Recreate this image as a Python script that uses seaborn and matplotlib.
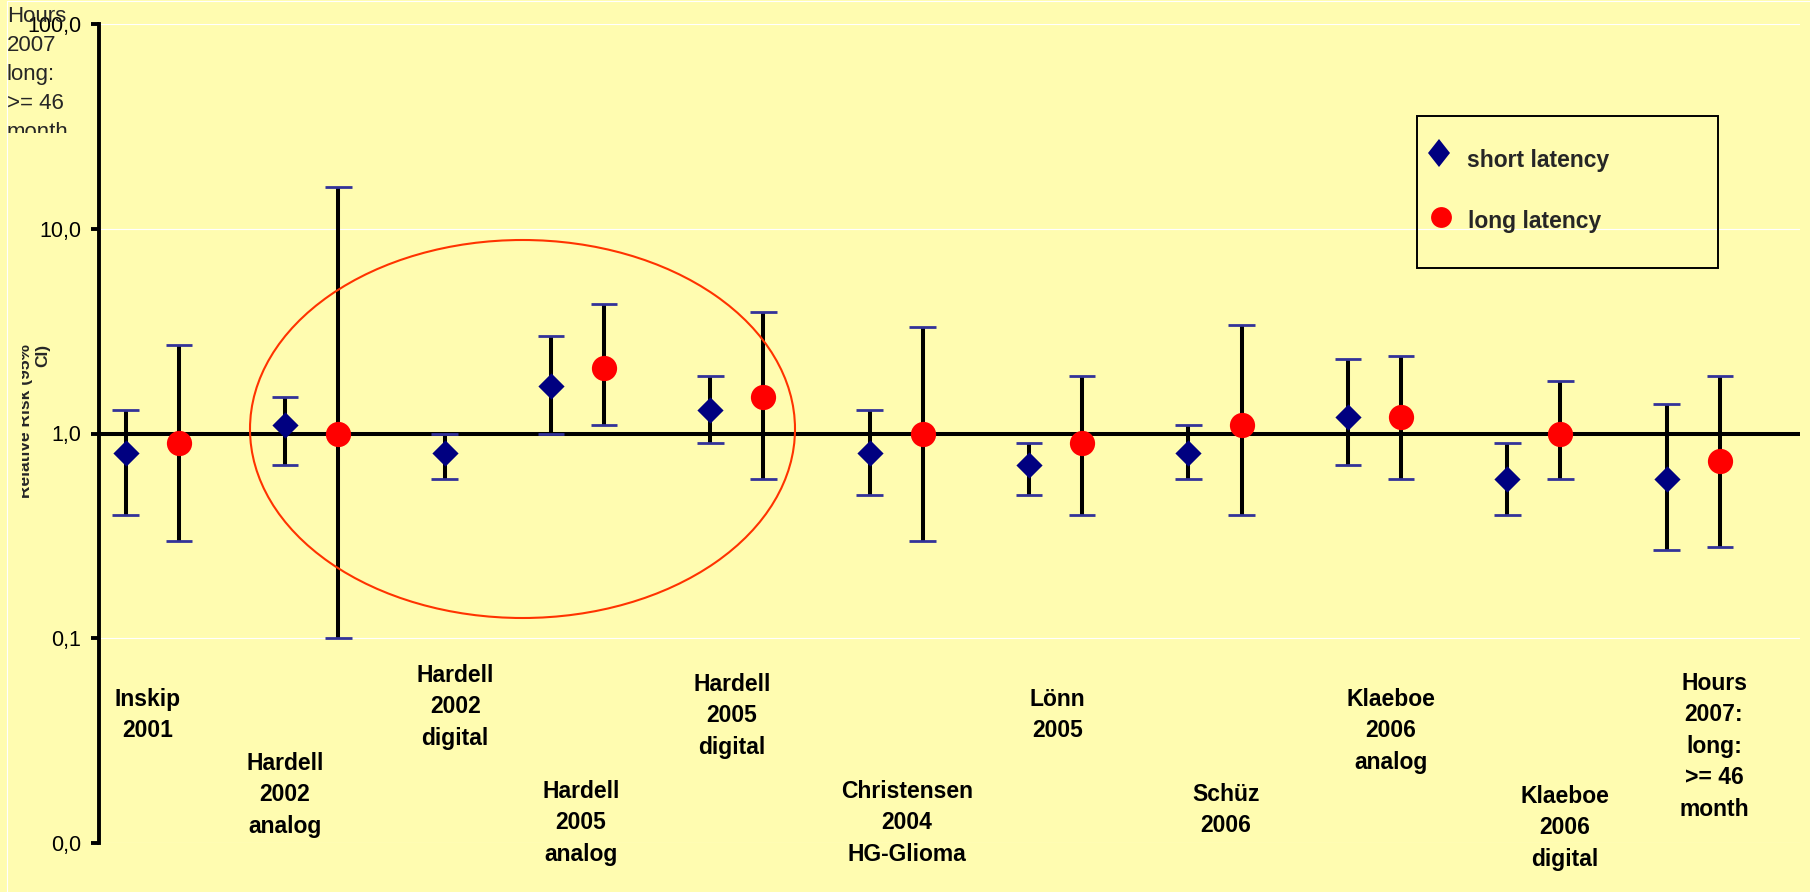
import numpy as np
import pandas as pd
import matplotlib
matplotlib.use("Agg")
import matplotlib.pyplot as plt
import matplotlib.transforms as mtransforms
from matplotlib.patches import Ellipse, Rectangle
from matplotlib.lines import Line2D
from matplotlib.markers import MarkerStyle
from matplotlib.ticker import NullLocator
import seaborn as sns

# ---- data -------------------------------------------------------------
studies = [
    "Inskip\n2001",
    "Hardell\n2002\nanalog",
    "Hardell\n2002\ndigital",
    "Hardell\n2005\nanalog",
    "Hardell\n2005\ndigital",
    "Christensen\n2004\nHG-Glioma",
    "Lönn\n2005",
    "Schüz\n2006",
    "Klaeboe\n2006\nanalog",
    "Klaeboe\n2006\ndigital",
    "Hours\n2007:\nlong:\n>= 46\nmonth",
]
short_rr = [0.8, 1.1, 0.8, 1.7, 1.3, 0.8, 0.7, 0.8, 1.2, 0.6, 0.6]
short_lo = [0.4, 0.7, 0.6, 1.0, 0.9, 0.5, 0.5, 0.6, 0.7, 0.4, 0.27]
short_hi = [1.3, 1.5, 1.0, 3.0, 1.9, 1.3, 0.9, 1.1, 2.3, 0.9, 1.4]
long_rr = [0.9, 1.0, np.nan, 2.1, 1.5, 1.0, 0.9, 1.1, 1.2, 1.0, 0.73]
long_lo = [0.3, 0.1, np.nan, 1.1, 0.6, 0.3, 0.4, 0.4, 0.6, 0.6, 0.28]
long_hi = [2.7, 16.0, np.nan, 4.3, 3.9, 3.3, 1.9, 3.4, 2.4, 1.8, 1.9]
y_ticks = [0.01, 0.1, 1, 10, 100]
y_tick_labels = ["0,0", "0,1", "1,0", "10,0", "100,0"]
series_names = ["short latency", "long latency"]

# ---- layout -----------------------------------------------------------
W, H, DPI = 1810, 892, 100
BG = "#FFFCB0"
# study label anchors: x in slot units, top edge in pixels from the top
label_x = [0.42, 3.0, 6.2, 8.57, 11.41, 14.70, 17.54, 20.70, 23.81, 27.08, 29.89]
label_top_px = [688, 752, 664, 780, 673, 780, 688, 783, 688, 785, 672]

# slot positions: short, long (if present), then an empty slot
short_x, long_x = [], []
slot = 0
for lr in long_rr:
    short_x.append(slot)
    slot += 1
    if not np.isnan(lr):
        long_x.append(slot)
        slot += 1
    else:
        long_x.append(np.nan)
    slot += 1
n_slots = slot

frames = []
frames.append(pd.DataFrame({"x": short_x, "rr": short_rr, "lo": short_lo,
                            "hi": short_hi, "latency": series_names[0]}))
frames.append(pd.DataFrame({"x": long_x, "rr": long_rr, "lo": long_lo,
                            "hi": long_hi, "latency": series_names[1]}))
df = pd.concat(frames, ignore_index=True).dropna()

sns.set_theme(style="white")
plt.rcParams["font.family"] = ["Liberation Sans", "DejaVu Sans"]

fig = plt.figure(figsize=(W / DPI, H / DPI), dpi=DPI, facecolor=BG)
ax_left, ax_right, ax_top, ax_bottom = 99.1, 1799.6, 24, 843
ax = fig.add_axes([ax_left / W, 1 - ax_bottom / H,
                   (ax_right - ax_left) / W, (ax_bottom - ax_top) / H])
ax.set_facecolor(BG)
ax.set_yscale("log")
ax.set_ylim(0.01, 100)
ax.set_xlim(-0.5, n_slots - 0.5)

# white decade gridlines
ax.yaxis.grid(True, color="white", linewidth=0.8)
ax.xaxis.grid(False)
ax.set_axisbelow(True)

# reference line at RR = 1
ax.axhline(1, color="black", linewidth=2.9, zorder=1.5)

# confidence intervals
ax.vlines(df["x"], df["lo"], df["hi"], colors="black", linewidth=2.9, zorder=2)
cap_half = 0.25
for col in ("lo", "hi"):
    ax.hlines(df[col], df["x"] - cap_half, df["x"] + cap_half,
              colors="#333399", linewidth=2.0, zorder=3)

# point estimates
sub_s = df[df["latency"] == series_names[0]]
sub_l = df[df["latency"] == series_names[1]]
sns.scatterplot(data=sub_s, x="x", y="rr", marker="D", color="#000080",
                s=178, linewidth=0, ax=ax, zorder=4, legend=False)
sns.scatterplot(data=sub_l, x="x", y="rr", marker="o", color="#FF0000",
                s=330, linewidth=0, ax=ax, zorder=4, legend=False)

# axes styling
for side in ("top", "right", "bottom"):
    ax.spines[side].set_visible(False)
ax.spines["left"].set_color("black")
ax.spines["left"].set_linewidth(2.8)
ax.set_xticks([])
ax.set_yticks(y_ticks)
ax.set_yticklabels(y_tick_labels)
ax.yaxis.set_minor_locator(NullLocator())
ax.tick_params(axis="y", which="major", direction="out", length=6,
               width=2.8, color="black", pad=7, labelsize=15.5,
               labelcolor="black", left=True)
ax.set_xlabel("")
ax.set_ylabel("")

# study labels inside the plot
blend = mtransforms.blended_transform_factory(ax.transData, ax.transAxes)
for name, lx, top in zip(studies, label_x, label_top_px):
    ax.text(lx, (ax_bottom - top) / (ax_bottom - ax_top), name,
            transform=blend, ha="center", va="top", fontsize=16.5,
            fontweight="bold", linespacing=1.47, color="black", zorder=6)

# highlight ring around the Hardell studies
ring = Ellipse((522.5 / W, 1 - 429 / H), 545 / W, 378 / H,
               transform=fig.transFigure, fill=False, edgecolor="#FF3300",
               linewidth=1.5, zorder=10)
fig.add_artist(ring)

# legend box
fig.add_artist(Rectangle((1417 / W, 1 - 268 / H), (1718 - 1417) / W,
                         (268 - 116) / H, transform=fig.transFigure,
                         facecolor="none", edgecolor="black", linewidth=1.4,
                         zorder=10))
tall_diamond = MarkerStyle("D", transform=mtransforms.Affine2D().scale(1, 1.27))
fig.add_artist(Line2D([1439 / W], [1 - 153 / H], transform=fig.transFigure,
                      marker=tall_diamond, markersize=11.2, color="#000080",
                      markeredgewidth=0, linestyle="none", zorder=11))
fig.add_artist(Line2D([1441 / W], [1 - 217 / H], transform=fig.transFigure,
                      marker="o", markersize=15, color="#FF0000",
                      markeredgewidth=0, linestyle="none", zorder=11))
fig.text(1467 / W, 1 - 167 / H, series_names[0], fontsize=16.5,
         fontweight="bold", va="baseline", ha="left", zorder=11)
fig.text(1468 / W, 1 - 228 / H, series_names[1], fontsize=16.5,
         fontweight="bold", va="baseline", ha="left", zorder=11)

# axis title, partly cut off at its left edge
ylab = fig.text(50 / W, 1 - 344 / H, "Relative Risk (95%\nCI)", rotation=90,
                ha="right", va="top", multialignment="right", fontsize=12.5,
                fontweight="bold", linespacing=1.2, zorder=11)
ylab.set_clip_box(mtransforms.TransformedBbox(
    mtransforms.Bbox.from_extents(22 / W, 1 - 560 / H, 70 / W, 1 - 320 / H),
    fig.transFigure))
ylab.set_clip_on(True)

# overflowing note in the upper-left corner, cut at its bottom
note = fig.text(7 / W, 1 - 6 / H, "Hours\n2007\nlong:\n>= 46\nmonth",
                ha="left", va="top", fontsize=16, linespacing=1.5, zorder=11)
note.set_clip_box(mtransforms.TransformedBbox(
    mtransforms.Bbox.from_extents(7 / W, 1 - 133 / H, 90 / W, 1 - 1 / H),
    fig.transFigure))
note.set_clip_on(True)

# chart-area border lines
fig.add_artist(Line2D([7 / W, 7 / W], [0, 1 - 1 / H], transform=fig.transFigure,
                      color="white", linewidth=0.8, zorder=1))
fig.add_artist(Line2D([7 / W, 1], [1 - 1 / H, 1 - 1 / H], transform=fig.transFigure,
                      color="white", linewidth=0.8, zorder=1))

fig.savefig("out.png", dpi=DPI, facecolor=BG)
